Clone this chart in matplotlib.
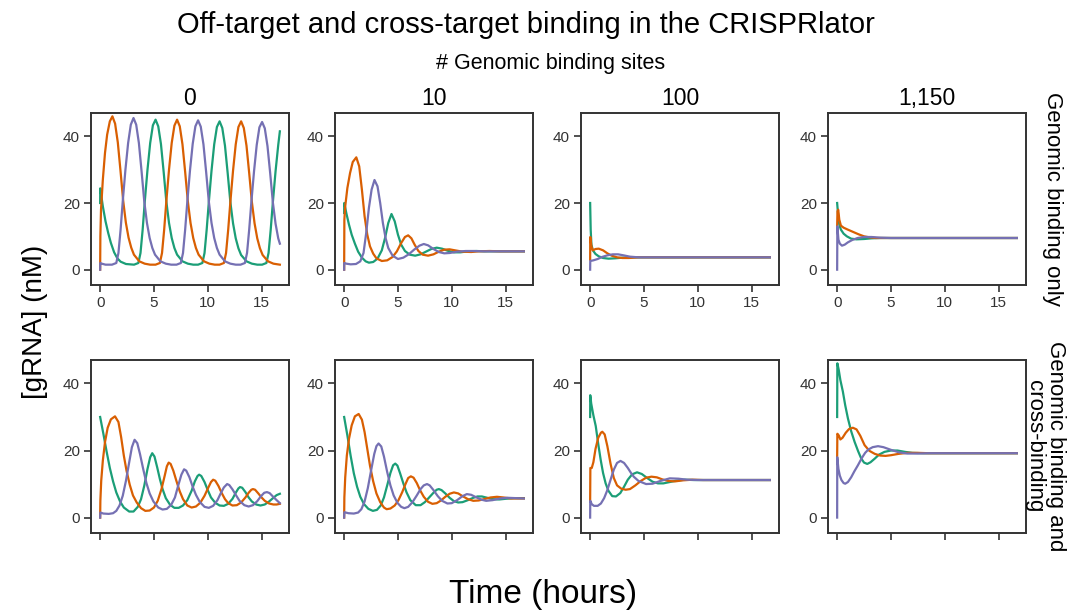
import matplotlib
matplotlib.use("Agg")
import matplotlib.pyplot as plt

plt.rcParams['font.family'] = ['Liberation Sans', 'DejaVu Sans']

col_titles = ['0', '10', '100', '1,150']
row_titles = ['Genomic binding only', 'Genomic binding and\ncross-binding']
colors = {'green': '#1b9e77', 'orange': '#d95f02', 'purple': '#7570b3'}

# ---- panel 1: 0 sites, genomic binding only ----
p1_green_t = [0, 0.01, 0.25, 0.5, 0.75, 1.0, 1.3, 1.6, 1.9, 2.4, 3.15, 3.55, 3.75, 3.95, 4.15, 4.4, 4.65, 4.9, 5.15,
              5.4, 5.65, 5.9, 6.15, 6.4, 6.65, 6.9, 7.15, 7.65, 8.15, 8.65, 9.1, 9.5, 9.7, 9.9, 10.1, 10.35, 10.6, 10.85, 11.1,
              11.35, 11.6, 11.85, 12.1, 12.35, 12.6, 12.85, 13.1, 13.6, 14.1, 14.6, 15.05, 15.45, 15.65, 15.85, 16.05, 16.3, 16.55, 16.7]
p1_green_y = [20, 24.4, 19, 14.5, 11, 8, 5.2, 3.4, 2.4, 1.7, 1.5, 2.0, 5, 12, 20.5, 30, 38, 43.3, 45,
              43, 37.7, 29.4, 20.5, 14, 9.5, 6.5, 4.5, 2.5, 1.8, 1.5, 1.5, 2.0, 5, 12, 20.3, 29.7, 37.6, 42.8, 44.5,
              42.5, 37.2, 29, 20.3, 13.9, 9.4, 6.4, 4.4, 2.5, 1.8, 1.5, 1.5, 2.0, 5, 12, 20.2, 29.5, 37.4, 41.5]
p1_orange_t = [0, 0.02, 0.08, 0.25, 0.45, 0.65, 0.9, 1.14, 1.39, 1.64, 1.89, 2.14, 2.39, 2.64, 2.89, 3.14, 3.64, 4.14, 4.64,
               5.15, 5.55, 5.75, 5.95, 6.15, 6.4, 6.65, 6.9, 7.15, 7.4, 7.65, 7.9, 8.15, 8.4, 8.65, 8.9, 9.15, 9.65, 10.15, 10.65,
               11.1, 11.5, 11.7, 11.9, 12.1, 12.35, 12.6, 12.85, 13.1, 13.35, 13.6, 13.85, 14.1, 14.35, 14.6, 14.85, 15.1, 15.6, 16.1, 16.7]
p1_orange_y = [0, 10, 18, 27, 35, 40.5, 44.5, 46, 43.8, 38.2, 29.7, 20.7, 14.1, 9.6, 6.6, 4.5, 2.5, 1.8, 1.5,
               1.5, 2.0, 5, 12, 20.5, 30, 38, 43.2, 45, 43, 37.6, 29.3, 20.5, 14, 9.5, 6.5, 4.5, 2.5, 1.8, 1.5,
               1.5, 2.0, 5, 12, 20.3, 29.7, 37.6, 42.8, 44.5, 42.5, 37.2, 29, 20.3, 13.9, 9.4, 6.4, 4.4, 2.5, 1.8, 1.5]
p1_purple_t = [0, 0.01, 0.15, 0.5, 1.1, 1.5, 1.7, 1.9, 2.1, 2.35, 2.6, 2.85, 3.1,
               3.35, 3.6, 3.85, 4.1, 4.35, 4.6, 4.85, 5.1, 5.6, 6.1, 6.6, 7.1,
               7.5, 7.7, 7.9, 8.1, 8.35, 8.6, 8.85, 9.1,
               9.35, 9.6, 9.85, 10.1, 10.35, 10.6, 10.85, 11.1, 11.6, 12.1, 12.6, 13.05,
               13.45, 13.65, 13.85, 14.05, 14.3, 14.55, 14.8, 15.05,
               15.3, 15.55, 15.8, 16.05, 16.3, 16.55, 16.7]
p1_purple_y = [0, 2.0, 1.8, 1.5, 1.5, 2.0, 5, 12, 20.5, 30, 38, 43.5, 45.5,
               43.5, 38, 29.5, 20.5, 14, 9.5, 6.5, 4.5, 2.5, 1.8, 1.5, 1.5,
               2.0, 5, 12, 20.4, 29.8, 37.7, 43, 44.8,
               42.9, 37.6, 29.3, 20.4, 14, 9.5, 6.5, 4.5, 2.5, 1.8, 1.5, 1.5,
               2.0, 5, 12, 20.2, 29.5, 37.4, 42.7, 44.3,
               42.4, 37.1, 29, 20.2, 13.8, 9.4, 7.8]

# ---- panel 2: 10 sites, genomic binding only ----
p2_green_t = [0, 0.01, 0.2, 0.45, 0.7, 1.0, 1.3, 1.65, 2.0, 2.3, 2.7, 3.1, 3.5, 3.8, 4.1, 4.4, 4.7, 5.0, 5.3, 5.65, 6.1,
              6.6, 7.1, 7.6, 8.1, 8.6, 9.1, 9.6, 10.2, 10.8, 11.5, 12.3, 13, 16.7]
p2_green_y = [17, 20, 17, 13.5, 10.5, 7.8, 5.4, 3.6, 2.5, 2.1, 2.3, 3.3, 5.8, 9.5, 14, 16.7, 14.5, 10.5, 7.5, 5.6, 4.5,
              4.2, 4.6, 5.4, 6.2, 6.6, 6.3, 5.7, 5.2, 5.2, 5.5, 5.6, 5.5, 5.5]
p2_orange_t = [0, 0.02, 0.1, 0.3, 0.55, 0.8, 1.13, 1.4, 1.65, 1.9, 2.15, 2.4, 2.7, 3.0, 3.5, 4.0, 4.5, 4.9, 5.3, 5.65,
               5.95, 6.25, 6.55, 6.9, 7.3, 7.8, 8.3, 8.8, 9.3, 9.8, 10.3, 11, 11.8, 12.5, 13.5, 14.5, 16.7]
p2_orange_y = [0, 15, 19, 24.5, 29, 32.3, 33.7, 31, 24, 16, 10.5, 7, 4.8, 3.4, 2.6, 2.8, 3.8, 5.5, 8, 9.8,
               10.3, 9.4, 7.5, 5.6, 4.5, 4.2, 4.6, 5.4, 6.0, 6.1, 5.8, 5.4, 5.3, 5.5, 5.6, 5.5, 5.5]
p2_purple_t = [0, 0.01, 0.2, 0.6, 1.1, 1.5, 1.8, 2.05, 2.3, 2.55, 2.82, 3.1, 3.35, 3.6, 3.85, 4.1, 4.5, 5.0, 5.5, 6.0,
               6.5, 7.0, 7.4, 7.8, 8.3, 8.8, 9.3, 9.8, 10.5, 11.3, 12, 13, 16.7]
p2_purple_y = [0, 2.0, 1.8, 1.6, 1.7, 2.5, 5, 11, 18.5, 24, 26.9, 25, 20, 14, 9.5, 6.5, 4.2, 3.2, 3.6, 4.6,
               6.0, 7.2, 7.7, 7.3, 6.2, 5.3, 4.9, 5.0, 5.4, 5.6, 5.6, 5.5, 5.5]

# ---- panel 3: 100 sites, genomic binding only ----
p3_green_t = [0, 0.05, 0.12, 0.25, 0.5, 0.8, 1.2, 1.7, 2.3, 3, 4, 16.7]
p3_green_y = [20, 12, 7.5, 5.8, 4.7, 4.0, 3.5, 3.3, 3.4, 3.6, 3.7, 3.7]
p3_orange_t = [0, 0.01, 0.12, 0.25, 0.5, 0.8, 1.2, 1.6, 2.0, 2.5, 3.0, 3.6, 4.5, 16.7]
p3_orange_y = [3, 9.8, 7, 5.8, 6.2, 6.3, 5.8, 4.9, 4.2, 3.7, 3.5, 3.5, 3.7, 3.7]
p3_purple_t = [0, 0.01, 0.3, 0.7, 1.1, 1.6, 2.1, 2.6, 3.1, 3.7, 4.5, 16.7]
p3_purple_y = [0, 2.6, 2.8, 3.2, 3.8, 4.3, 4.6, 4.6, 4.3, 3.9, 3.7, 3.7]

# ---- panel 4: 1,150 sites, genomic binding only ----
p4_green_t = [0, 0.1, 0.2, 0.35, 0.6, 0.9, 1.3, 1.8, 2.5, 3.2, 4, 16.7]
p4_green_y = [20, 16, 13.5, 12, 10.8, 10, 9.3, 9.1, 9.2, 9.4, 9.5, 9.5]
p4_orange_t = [0, 0.03, 0.1, 0.2, 0.35, 0.6, 1.0, 1.5, 2.0, 2.5, 3.0, 3.6, 16.7]
p4_orange_y = [13, 17.5, 18, 15, 13.2, 12.6, 12.0, 11.3, 10.6, 10.0, 9.7, 9.5, 9.5]
p4_purple_t = [0, 0.02, 0.12, 0.25, 0.45, 0.7, 1.0, 1.4, 1.9, 2.5, 3.2, 4, 5, 16.7]
p4_purple_y = [0, 13, 9, 7.8, 7.2, 7.5, 8.2, 8.9, 9.5, 9.8, 9.8, 9.6, 9.5, 9.5]

# ---- panel 5: 0 sites, genomic + cross-binding ----
p5_green_t = [0, 0.3, 0.6, 0.9, 1.2, 1.5, 1.85, 2.2, 2.7, 3.1, 3.5, 3.8, 4.1, 4.4, 4.65, 4.84, 5.05, 5.3, 5.55, 5.8,
              6.1, 6.5, 6.9, 7.3, 7.7, 8.1, 8.5, 8.8, 9.05, 9.2, 9.4, 9.7, 10.0, 10.3, 10.7, 11.1, 11.5, 11.9, 12.3,
              12.6, 12.85, 13.0, 13.2, 13.5, 13.8, 14.1, 14.5, 14.9, 15.3, 15.7, 16.1, 16.4, 16.7]
p5_green_y = [30, 25, 19.7, 14.8, 10.8, 7.5, 4.8, 3.0, 1.8, 1.8, 3.2, 5.5, 9.5, 14.5, 18, 19.2, 18.2, 15, 11.5, 8.5,
              5.8, 3.8, 2.9, 2.9, 3.6, 5.2, 8.0, 10.8, 12.4, 12.8, 12.4, 10.6, 8.2, 6.0, 4.4, 3.6, 3.5, 4.1, 5.6,
              7.4, 8.7, 9.1, 8.9, 7.6, 6.0, 4.8, 3.9, 3.6, 3.9, 4.8, 5.9, 6.7, 7.1]
p5_orange_t = [0, 0.02, 0.1, 0.25, 0.45, 0.7, 1.0, 1.38, 1.7, 1.95, 2.2, 2.45, 2.75, 3.05, 3.4, 3.8, 4.2, 4.6, 5.0,
               5.35, 5.7, 6.0, 6.2, 6.37, 6.55, 6.8, 7.1, 7.4, 7.7, 8.1, 8.5, 8.9, 9.3, 9.7, 10.0, 10.3, 10.5, 10.7,
               11.0, 11.3, 11.6, 11.9, 12.3, 12.7, 13.1, 13.5, 13.8, 14.05, 14.2, 14.4, 14.7, 15.0, 15.3, 15.7, 16.1,
               16.4, 16.7]
p5_orange_y = [0, 5, 11, 17, 22.5, 26.8, 29.3, 30.2, 28.5, 24, 18.5, 14, 9.8, 6.6, 4.5, 2.8, 2.0, 2.1, 3.0,
               5.0, 8.5, 12.5, 15.3, 16.4, 16.0, 14.0, 10.8, 7.8, 5.5, 3.6, 3.0, 3.3, 4.4, 6.5, 8.6, 10.6, 11.3, 11.0,
               9.4, 7.3, 5.5, 4.3, 3.6, 3.7, 4.5, 6.0, 7.4, 8.3, 8.5, 8.3, 7.2, 6.0, 5.0, 4.2, 3.9,
               3.9, 4.1]
p5_purple_t = [0, 0.02, 0.3, 0.8, 1.2, 1.5, 1.8, 2.1, 2.4, 2.7, 2.95, 3.2, 3.45, 3.7, 4.0, 4.3, 4.6, 4.95, 5.4, 5.8,
               6.2, 6.6, 6.95, 7.25, 7.55, 7.8, 8.0, 8.3, 8.6, 8.9, 9.25, 9.7, 10.1, 10.5, 10.9, 11.2, 11.5, 11.8,
               12.0, 12.3, 12.6, 12.95, 13.4, 13.8, 14.2, 14.6, 14.95, 15.25, 15.5, 15.75, 16.05, 16.4, 16.7]
p5_purple_y = [0, 1.5, 1.2, 1.1, 1.3, 2.0, 3.6, 6.5, 11, 16.5, 21, 23.2, 22.2, 19, 14.5, 10.3, 7.2, 4.8, 3.0, 2.4,
               2.6, 3.8, 6.0, 9.5, 12.8, 14.4, 14.0, 12.0, 9.2, 6.8, 4.7, 3.2, 2.9, 3.5, 5.2, 7.2, 9.0, 10.0,
               9.7, 8.4, 6.8, 5.0, 3.7, 3.3, 3.7, 4.9, 6.4, 7.4, 7.6, 7.3, 6.3, 5.2, 4.3]

# ---- panel 6: 10 sites, genomic + cross-binding ----
p6_green_t = [0, 0.3, 0.6, 0.9, 1.2, 1.5, 1.85, 2.25, 2.67, 3.05, 3.4, 3.7, 4.0, 4.3, 4.55, 4.75, 4.95, 5.2, 5.5, 5.8,
              6.15, 6.65, 7.1, 7.5, 7.9, 8.3, 8.6, 8.8, 9.05, 9.4, 9.8, 10.2, 10.6, 11.0, 11.5, 12.0, 12.4, 12.8,
              13.3, 13.8, 14.4, 15.0, 15.8, 16.7]
p6_green_y = [30, 24.5, 18.5, 13.2, 9.2, 6.2, 4.0, 2.6, 2.0, 2.3, 3.6, 6.0, 9.6, 13.3, 15.6, 16.1, 15.5, 13.2, 10.2, 7.5,
              5.2, 3.7, 3.7, 4.6, 6.0, 7.4, 8.3, 8.5, 8.2, 7.2, 5.9, 4.9, 4.5, 4.6, 5.2, 5.9, 6.3, 6.3,
              5.9, 5.5, 5.4, 5.6, 5.8, 5.8]
p6_orange_t = [0, 0.02, 0.1, 0.25, 0.45, 0.7, 1.0, 1.35, 1.65, 1.9, 2.15, 2.4, 2.7, 3.0, 3.35, 3.7, 3.95, 4.3, 4.7,
               5.05, 5.4, 5.7, 5.95, 6.2, 6.45, 6.75, 7.05, 7.4, 7.8, 8.2, 8.6, 9.0, 9.4, 9.8, 10.2, 10.6, 11.0, 11.5,
               12.0, 12.5, 13.0, 13.6, 14.2, 14.8, 15.5, 16.7]
p6_orange_y = [0, 6, 12, 18.5, 23.5, 27.5, 30.2, 30.9, 29.2, 25.5, 20.5, 15.5, 10.8, 7.2, 4.6, 3.0, 2.5, 2.7, 3.6,
               5.2, 7.6, 10.0, 11.8, 12.3, 11.9, 10.3, 8.2, 6.2, 4.7, 4.1, 4.3, 5.1, 6.2, 7.1, 7.5, 7.2, 6.4, 5.5,
               5.0, 5.1, 5.5, 6.0, 6.2, 6.0, 5.7, 5.7]
p6_purple_t = [0, 0.02, 0.4, 0.9, 1.3, 1.6, 1.9, 2.2, 2.5, 2.8, 3.0, 3.2, 3.45, 3.7, 4.0, 4.3, 4.6, 4.95, 5.3, 5.6,
               5.95, 6.35, 6.75, 7.1, 7.4, 7.7, 7.95, 8.3, 8.7, 9.1, 9.6, 10.0, 10.5, 11.0, 11.4, 11.8, 12.3, 12.8,
               13.2, 13.8, 14.5, 15.2, 16.7]
p6_purple_y = [0, 1.6, 1.3, 1.2, 1.5, 2.5, 4.8, 8.8, 14.0, 19, 21.3, 22.1, 21.2, 18.2, 13.6, 9.6, 6.6, 4.4, 3.2, 2.8,
               3.2, 4.6, 6.6, 8.5, 9.6, 10.0, 9.6, 8.2, 6.4, 5.0, 4.2, 4.3, 5.2, 6.4, 7.0, 6.8, 6.0, 5.3,
               5.0, 5.2, 5.7, 5.9, 5.7]

# ---- panel 7: 100 sites, genomic + cross-binding ----
p7_green_t = [0, 0.01, 0.1, 0.3, 0.52, 0.75, 0.98, 1.2, 1.44, 1.7, 2.05, 2.4, 2.8, 3.15, 3.5, 3.9, 4.36, 4.8, 5.3,
              5.8, 6.3, 6.8, 7.4, 8.0, 8.8, 9.6, 16.7]
p7_green_y = [30, 36.5, 34, 30.5, 27.3, 22, 17.2, 13.3, 10.2, 8.0, 6.4, 6.3, 7.3, 9.2, 11.3, 12.9, 13.5, 13.0, 11.8,
              10.7, 10.2, 10.2, 10.6, 11.0, 11.3, 11.2, 11.2]
p7_orange_t = [0, 0.02, 0.15, 0.3, 0.5, 0.75, 1.0, 1.13, 1.35, 1.6, 1.9, 2.2, 2.5, 2.9, 3.3, 3.7, 4.2, 4.7, 5.2, 5.7,
               6.2, 6.7, 7.3, 7.9, 8.6, 9.5, 10.5, 16.7]
p7_orange_y = [5, 14.8, 14.8, 16.5, 20.5, 23.8, 25.3, 25.6, 24.8, 21.3, 16, 11.8, 9.6, 8.6, 8.3, 8.5, 9.6, 10.9, 11.9, 12.2,
               12.0, 11.4, 10.9, 10.8, 11.1, 11.3, 11.2, 11.2]
p7_purple_t = [0, 0.01, 0.15, 0.35, 0.7, 1.0, 1.3, 1.6, 1.9, 2.2, 2.5, 2.82, 3.15, 3.5, 3.8, 4.05, 4.5, 5.2, 5.8, 6.5,
               7.4, 8.2, 9.0, 10, 16.7]
p7_purple_y = [0, 5.0, 4.0, 3.5, 3.5, 4.2, 5.8, 8.2, 11.3, 14.3, 16.3, 16.9, 16.3, 14.8, 13.3, 12.2, 10.9, 10.0, 10.1, 10.9,
               11.7, 11.6, 11.3, 11.2, 11.2]

# ---- panel 8: 1,150 sites, genomic + cross-binding ----
p8_green_t = [0, 0.02, 0.15, 0.3, 0.53, 0.75, 1.0, 1.3, 1.62, 1.95, 2.24, 2.5, 2.8, 3.1, 3.5, 3.9, 4.4, 5.0, 5.6, 6.3,
              7.0, 8.0, 16.7]
p8_green_y = [30, 46, 44, 41, 37.6, 33.5, 29.6, 25.8, 22.6, 19.8, 17.6, 16.4, 16.0, 16.5, 17.6, 18.8, 19.6, 20.0, 20.0, 19.6,
              19.3, 19.2, 19.2]
p8_orange_t = [0, 0.02, 0.15, 0.3, 0.5, 0.8, 1.1, 1.46, 1.8, 2.15, 2.55, 3.0, 3.5, 4.0, 4.5, 5.0, 5.7, 6.5, 7.5, 8.5, 16.7]
p8_orange_y = [18, 25, 24.5, 23.3, 23.8, 25.3, 26.4, 26.8, 26.3, 24.4, 21.6, 19.9, 19.0, 18.5, 18.4, 18.6, 19.0, 19.3, 19.3,
               19.2, 19.2]
p8_purple_t = [0, 0.01, 0.12, 0.25, 0.4, 0.6, 0.75, 1.0, 1.3, 1.6, 1.93, 2.3, 2.6, 2.9, 3.3, 3.8, 4.3, 5.0, 5.7, 6.5,
               7.5, 8.5, 16.7]
p8_purple_y = [0, 18, 14.5, 12.5, 11.2, 10.3, 10.1, 10.6, 12.0, 13.8, 15.6, 17.8, 19.3, 20.3, 21.0, 21.3, 21.0, 20.2, 19.5,
               19.1, 19.1, 19.2, 19.2]

panels = [
    [(p1_green_t, p1_green_y), (p1_orange_t, p1_orange_y), (p1_purple_t, p1_purple_y)],
    [(p2_green_t, p2_green_y), (p2_orange_t, p2_orange_y), (p2_purple_t, p2_purple_y)],
    [(p3_green_t, p3_green_y), (p3_orange_t, p3_orange_y), (p3_purple_t, p3_purple_y)],
    [(p4_green_t, p4_green_y), (p4_orange_t, p4_orange_y), (p4_purple_t, p4_purple_y)],
    [(p5_green_t, p5_green_y), (p5_orange_t, p5_orange_y), (p5_purple_t, p5_purple_y)],
    [(p6_green_t, p6_green_y), (p6_orange_t, p6_orange_y), (p6_purple_t, p6_purple_y)],
    [(p7_green_t, p7_green_y), (p7_orange_t, p7_orange_y), (p7_purple_t, p7_purple_y)],
    [(p8_green_t, p8_green_y), (p8_orange_t, p8_orange_y), (p8_purple_t, p8_purple_y)],
]
series_colors = [colors['green'], colors['orange'], colors['purple']]

W, H = 1073, 613
fig = plt.figure(figsize=(W / 100, H / 100), dpi=100)

lefts = [91, 335, 581, 828]
row_box = [(113, 285), (360, 533)]
axw = 198
dark = '#333333'

for k, curves in enumerate(panels):
    r, c = divmod(k, 4)
    top, bot = row_box[r]
    ax = fig.add_axes([lefts[c] / W, 1 - bot / H, axw / W, (bot - top) / H])
    for (t, y), clr in zip(curves, series_colors):
        ax.plot(t, y, color=clr, lw=1.6)
    ax.set_xlim(-0.85, 17.55)
    ax.set_ylim(-4.6, 47)
    ax.set_xticks([0, 5, 10, 15])
    ax.set_yticks([0, 20, 40])
    ax.tick_params(direction='out', length=5, width=1.2, colors=dark, labelsize=11, pad=3)
    for s in ax.spines.values():
        s.set_color(dark)
        s.set_linewidth(1.4)
    if r == 0:
        ax.set_title(col_titles[c], fontsize=16.5, pad=6)
    else:
        ax.set_xticklabels([])

fig.text(1052 / W, 1 - 199 / H, row_titles[0], rotation=-90, ha='center', va='center', fontsize=16)
fig.text(1045 / W, 1 - 446 / H, row_titles[1], rotation=-90, ha='center', va='center',
         fontsize=16, linespacing=0.95)

fig.text(526 / W, 1 - 25 / H, 'Off-target and cross-target binding in the CRISPRlator',
         ha='center', va='center', fontsize=21)
fig.text(551 / W, 1 - 63 / H, '# Genomic binding sites', ha='center', va='center', fontsize=15.5)
fig.text(35 / W, 1 - 322 / H, '[gRNA] (nM)', ha='center', va='center', rotation=90, fontsize=20)
fig.text(543 / W, 1 - 595 / H, 'Time (hours)', ha='center', va='center', fontsize=24)

fig.savefig('out.png', dpi=100)
